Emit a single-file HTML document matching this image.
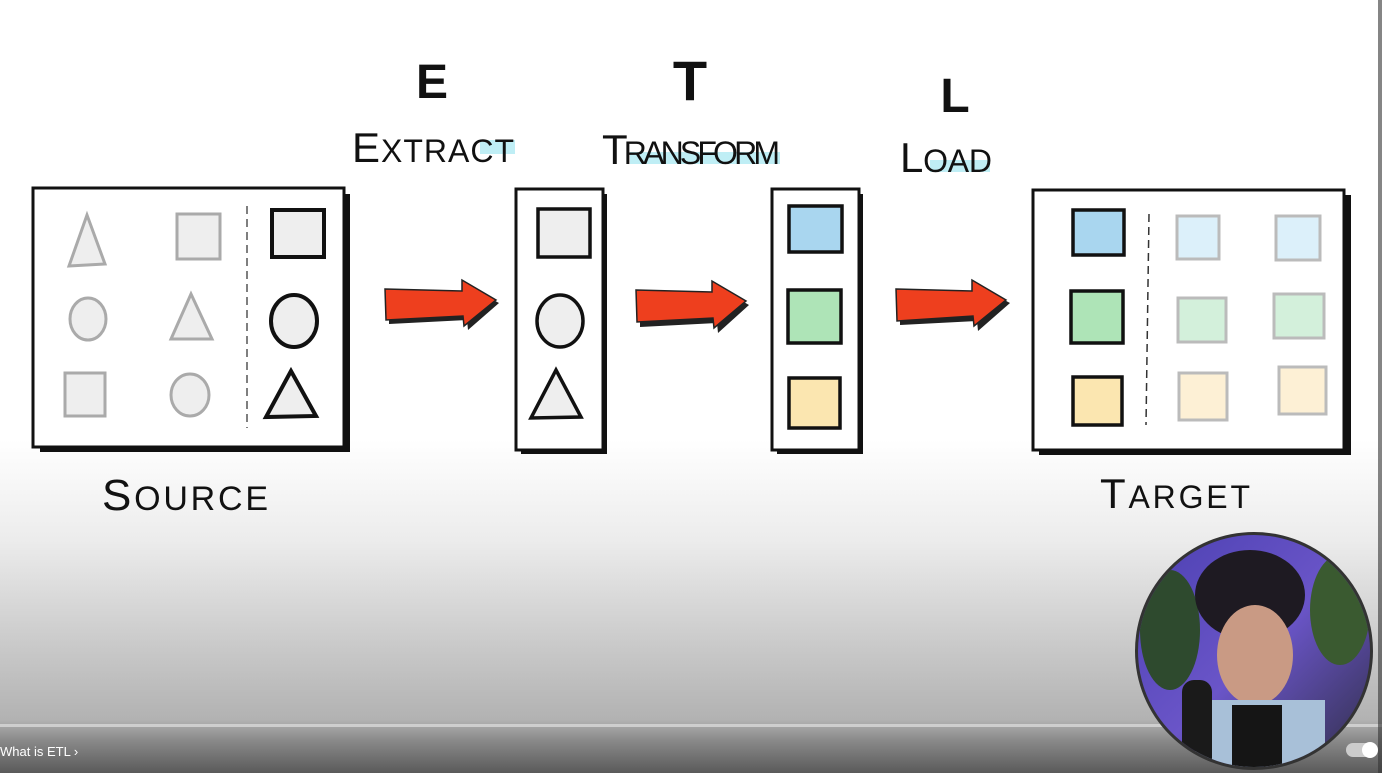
<!DOCTYPE html>
<html><head><style>
html,body{margin:0;padding:0;width:1382px;height:773px;overflow:hidden}
body{background:linear-gradient(#fff 0px,#fff 440px,#ececec 540px,#c8c8c8 650px,#b2b2b2 720px,#8a8a8a 740px,#5a5a5a 773px);font-family:"Liberation Sans",sans-serif}
svg{position:absolute;left:0;top:0}
</style></head><body>
<svg width="1382" height="773" viewBox="0 0 1382 773">
<defs>
<clipPath id="cc"><circle cx="1254" cy="651" r="116"/></clipPath>
<linearGradient id="face" x1="0" y1="0" x2="1" y2="1"><stop offset="0" stop-color="#4a3fb0"/><stop offset="0.5" stop-color="#6a55c8"/><stop offset="1" stop-color="#2a2a3a"/></linearGradient>
</defs>
<g font-family="Liberation Sans, sans-serif" font-weight="bold" fill="#111">
<text x="432" y="98" font-size="48" text-anchor="middle">E</text>
<text x="690" y="100" font-size="56" text-anchor="middle">T</text>
<text x="955" y="112" font-size="48" text-anchor="middle">L</text>
</g>
<g font-family="Liberation Sans, sans-serif" fill="#111" font-weight="normal">
<rect x="480" y="140" width="35" height="14" fill="#bfeef5"/>
<text x="352" y="162" font-size="42" textLength="162">E<tspan font-size="32">XTRACT</tspan></text>
<rect x="630" y="152" width="150" height="12" fill="#bfeef5"/>
<text x="602" y="164" font-size="42" textLength="178">T<tspan font-size="32">RANSFORM</tspan></text>
<rect x="930" y="160" width="60" height="12" fill="#bfeef5"/>
<text x="900" y="172" font-size="42" textLength="92">L<tspan font-size="32">OAD</tspan></text>
<text x="102" y="510" font-size="44" textLength="166">S<tspan font-size="34">OURCE</tspan></text>
<text x="1100" y="508" font-size="42" textLength="150">T<tspan font-size="32">ARGET</tspan></text>
</g>
<!-- source box -->
<rect x="40" y="194" width="310" height="258" fill="#111"/>
<rect x="33" y="188" width="311" height="259" fill="#fff" stroke="#111" stroke-width="3"/>
<line x1="247" y1="206" x2="247" y2="428" stroke="#555" stroke-width="1.5" stroke-dasharray="8 5"/>
<g fill="#eee" stroke="#aaa" stroke-width="3">
<polygon points="87,215 69,266 105,264"/>
<rect x="177" y="214" width="43" height="45"/>
<ellipse cx="88" cy="319" rx="18" ry="21"/>
<polygon points="191,294 171,339 212,339"/>
<rect x="65" y="373" width="40" height="43"/>
<ellipse cx="190" cy="395" rx="19" ry="21"/>
</g>
<g fill="#eee" stroke="#111" stroke-width="4">
<rect x="272" y="210" width="52" height="47"/>
<ellipse cx="294" cy="321" rx="23" ry="26"/>
<polygon points="291,371 266,417 316,416"/>
</g>
<!-- extract col -->
<rect x="521" y="194" width="86" height="260" fill="#111"/>
<rect x="516" y="189" width="87" height="261" fill="#fff" stroke="#111" stroke-width="3"/>
<g fill="#eee" stroke="#111" stroke-width="3.5">
<rect x="538" y="209" width="52" height="48"/>
<ellipse cx="560" cy="321" rx="23" ry="26"/>
<polygon points="556,370 531,418 581,417"/>
</g>
<!-- transform col -->
<rect x="777" y="194" width="86" height="260" fill="#111"/>
<rect x="772" y="189" width="87" height="261" fill="#fff" stroke="#111" stroke-width="3"/>
<g stroke="#111" stroke-width="3.5">
<rect x="789" y="206" width="53" height="46" fill="#a9d6ef"/>
<rect x="788" y="290" width="53" height="53" fill="#aee4b7"/>
<rect x="789" y="378" width="51" height="50" fill="#fbe6b0"/>
</g>
<!-- target box -->
<rect x="1039" y="195" width="312" height="260" fill="#111"/>
<rect x="1033" y="190" width="311" height="260" fill="#fff" stroke="#111" stroke-width="3"/>
<line x1="1149" y1="214" x2="1146" y2="425" stroke="#333" stroke-width="1.5" stroke-dasharray="8 5"/>
<g stroke="#111" stroke-width="3.5">
<rect x="1073" y="210" width="51" height="45" fill="#a9d6ef"/>
<rect x="1071" y="291" width="52" height="52" fill="#aee4b7"/>
<rect x="1073" y="377" width="49" height="48" fill="#fbe6b0"/>
</g>
<g stroke="#bbb" stroke-width="3">
<rect x="1177" y="216" width="42" height="43" fill="#dcf0fa"/>
<rect x="1276" y="216" width="44" height="44" fill="#dcf0fa"/>
<rect x="1178" y="298" width="48" height="44" fill="#d3f0db"/>
<rect x="1274" y="294" width="50" height="44" fill="#d3f0db"/>
<rect x="1179" y="373" width="48" height="47" fill="#fdf0d5"/>
<rect x="1279" y="367" width="47" height="47" fill="#fdf0d5"/>
</g>
<!-- arrows -->
<g>
<polygon points="389,293 466,293 466,285 499,303 468,330 467,320 389,324" fill="#222"/>
<polygon points="385,289 462,291 462,280 496,300 464,326 463,316 386,320" fill="#ee3f1e" stroke="#222" stroke-width="1.5"/>
<polygon points="640,294 716,294 716,286 749,305 718,333 717,323 640,327" fill="#222"/>
<polygon points="636,290 712,292 712,281 746,301 714,328 713,318 637,322" fill="#ee3f1e" stroke="#222" stroke-width="1.5"/>
<polygon points="900,293 976,293 976,285 1010,303 978,331 977,321 900,325" fill="#222"/>
<polygon points="896,289 972,291 972,280 1006,300 974,326 973,316 897,321" fill="#ee3f1e" stroke="#222" stroke-width="1.5"/>
</g>
<!-- progress bar -->
<rect x="0" y="724" width="1382" height="3" fill="#d8d8d8" opacity="0.8"/>
<text x="0" y="756" font-size="13" fill="#fff" font-family="Liberation Sans, sans-serif">What is ETL ›</text>
<!-- webcam circle -->
<circle cx="1254" cy="651" r="119" fill="#333"/>
<g clip-path="url(#cc)">
<rect x="1130" y="530" width="250" height="250" fill="url(#face)"/>
<ellipse cx="1170" cy="630" rx="30" ry="60" fill="#2e4a2e"/>
<ellipse cx="1340" cy="610" rx="30" ry="55" fill="#3a5a30"/>
<ellipse cx="1250" cy="595" rx="55" ry="45" fill="#1e1a22"/>
<ellipse cx="1255" cy="655" rx="38" ry="50" fill="#c99a84"/>
<rect x="1195" y="700" width="130" height="80" fill="#a8c0d8"/>
<rect x="1232" y="705" width="50" height="80" fill="#151515"/>
<rect x="1182" y="680" width="30" height="90" rx="12" fill="#1a1a1a"/>
</g>
<rect x="1346" y="743" width="30" height="14" rx="7" fill="#ccc"/>
<circle cx="1370" cy="750" r="8" fill="#fff"/>
<rect x="1378" y="0" width="4" height="773" fill="#333" opacity="0.6"/>
</svg>
</body></html>
